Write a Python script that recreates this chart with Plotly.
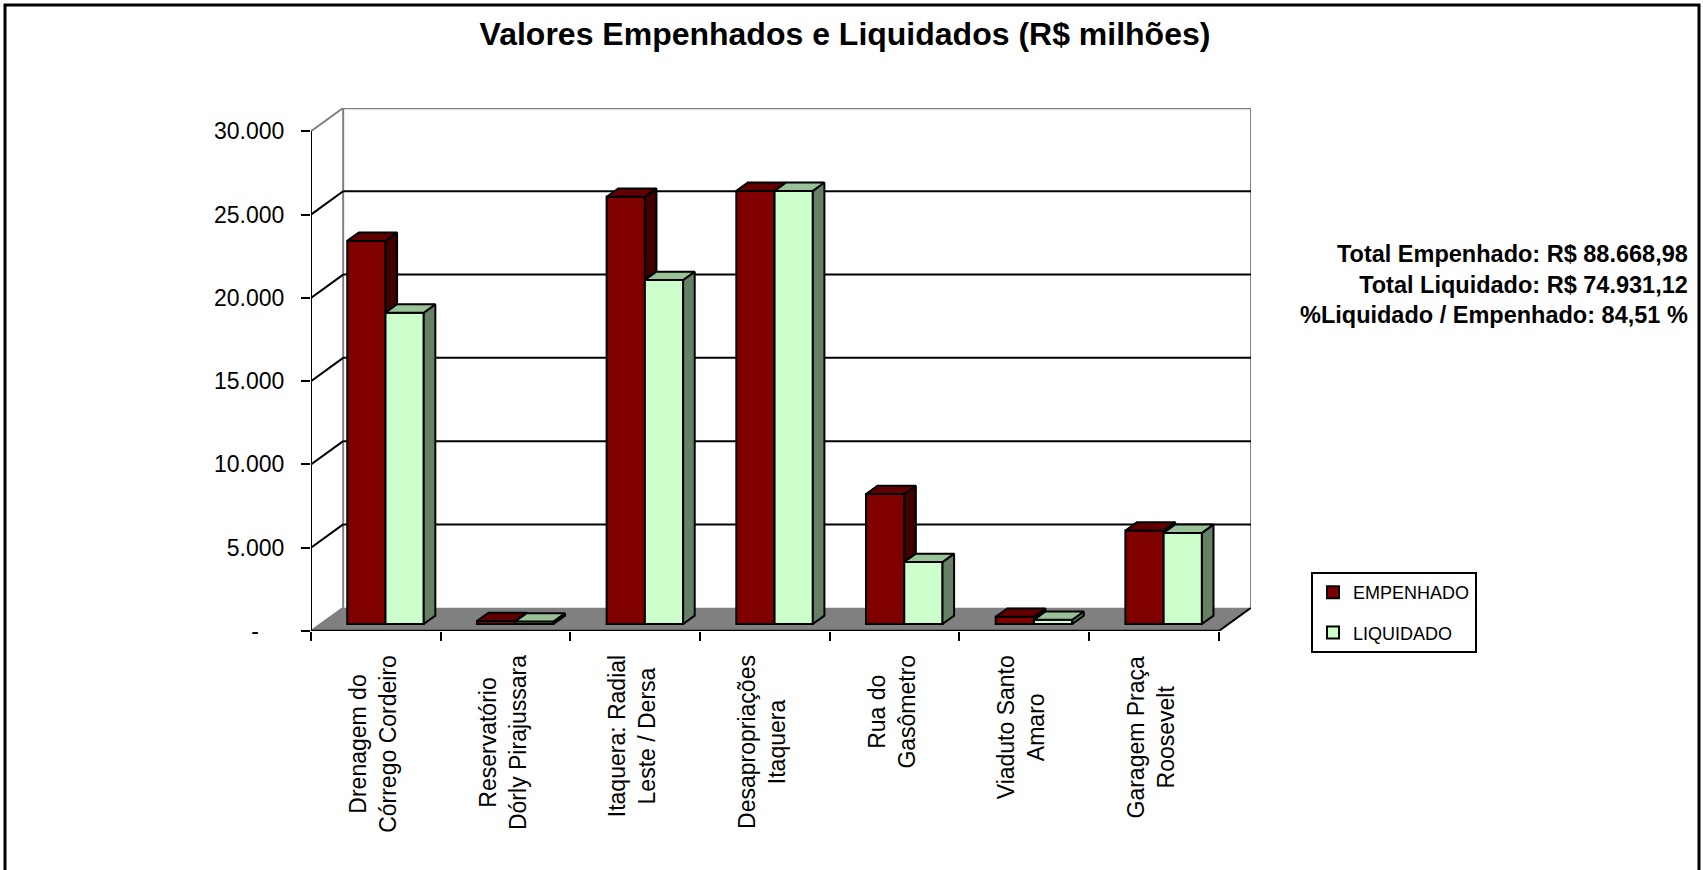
import plotly.graph_objects as go

# ---------------- data ----------------
categories = [
    "Drenagem do<br>Córrego Cordeiro",
    "Reservatório<br>Dórly Pirajussara",
    "Itaquera: Radial<br>Leste / Dersa",
    "Desapropriações<br>Itaquera",
    "Rua do<br>Gasômetro",
    "Viaduto Santo<br>Amaro",
    "Garagem Praça<br>Roosevelt",
]
empenhado = [23000, 180, 25650, 26000, 7800, 430, 5610]
liquidado = [18690, 150, 20650, 26000, 3720, 250, 5470]
series_names = ["EMPENHADO", "LIQUIDADO"]
y_tick_values = [0, 5000, 10000, 15000, 20000, 25000, 30000]
y_tick_labels = ["-\u00a0\u00a0\u00a0\u00a0", "5.000", "10.000", "15.000", "20.000", "25.000", "30.000"]
title_text = "Valores Empenhados e Liquidados (R$ milhões)"
total_lines = [
    "Total Empenhado: R$ 88.668,98",
    "Total Liquidado: R$ 74.931,12",
    "%Liquidado / Empenhado: 84,51 %",
]

# ---------------- geometry / style ----------------
W, H = 1703, 870
FONT = "Liberation Sans, Arial, sans-serif"
n = len(categories)
YMAX = 30000
DX = 0.248      # depth offset (category units)
DY = 1398       # depth offset (value units)
F0, F1 = 0.30, 0.66   # bar front/back depth fractions
BW = 0.295      # bar width (category units)

ML, MT, MB = 311, 108, 239
plot_w = 940
MR = W - ML - plot_w
plot_h = H - MT - MB


def px_x(px):
    return (px - ML) / plot_w


def px_y(py):
    return (H - MB - py) / plot_h


E_FRONT, E_TOP, E_SIDE = "#800000", "#600000", "#400000"
L_FRONT, L_TOP, L_SIDE = "#CCFFCC", "#99C299", "#668066"
GRAY = "#808080"

fig = go.Figure()

# ---------------- walls, floor, grid (shapes below traces) ----------------
shapes = []
shapes.append(dict(type="path", xref="x", yref="y", layer="below",
                   path=f"M 0,0 L {n},0 L {n+DX},{DY} L {DX},{DY} Z",
                   fillcolor=GRAY, line=dict(width=0)))
shapes.append(dict(type="line", xref="x", yref="y", layer="below", x0=0, y0=0, x1=DX, y1=DY,
                   line=dict(color=GRAY, width=2)))
shapes.append(dict(type="line", xref="x", yref="y", layer="below", x0=n, y0=0, x1=n + DX, y1=DY,
                   line=dict(color="black", width=2)))
shapes.append(dict(type="line", xref="x", yref="y", layer="below", x0=DX, y0=DY, x1=DX, y1=YMAX + DY,
                   line=dict(color=GRAY, width=2)))
shapes.append(dict(type="line", xref="x", yref="y", layer="below", x0=DX, y0=YMAX + DY, x1=n + DX, y1=YMAX + DY,
                   line=dict(color=GRAY, width=2.5)))
shapes.append(dict(type="line", xref="x", yref="y", layer="below", x0=n + DX, y0=DY, x1=n + DX, y1=YMAX + DY,
                   line=dict(color=GRAY, width=2)))
shapes.append(dict(type="line", xref="x", yref="y", layer="below", x0=0, y0=YMAX, x1=DX, y1=YMAX + DY,
                   line=dict(color=GRAY, width=2)))
for v in y_tick_values[1:-1]:
    shapes.append(dict(type="line", xref="x", yref="y", layer="below", x0=DX, y0=v + DY, x1=n + DX, y1=v + DY,
                       line=dict(color="black", width=2)))
    shapes.append(dict(type="line", xref="x", yref="y", layer="below", x0=0, y0=v, x1=DX, y1=v + DY,
                       line=dict(color="black", width=2)))
shapes.append(dict(type="line", xref="x", yref="y", layer="above", x0=0, y0=0, x1=0, y1=YMAX,
                   line=dict(color="black", width=2)))
shapes.append(dict(type="line", xref="x", yref="y", layer="above", x0=0, y0=0, x1=n, y1=0,
                   line=dict(color="black", width=2.5)))
# outer border (bottom edge falls outside the canvas, as in the reference)
shapes.append(dict(type="rect", xref="paper", yref="paper", layer="above",
                   x0=px_x(5), x1=px_x(1699), y0=px_y(874), y1=px_y(5),
                   line=dict(color="black", width=3), fillcolor="rgba(0,0,0,0)"))

# ---------------- bars (front faces) ----------------
base = F0 * DY
xc = [i + 0.5 + F0 * DX for i in range(n)]
fig.add_trace(go.Bar(x=xc, y=empenhado, base=base, width=BW, offset=-BW, name=series_names[0],
                     legendgroup="e", marker=dict(color=E_FRONT, line=dict(color="black", width=2)),
                     hoverinfo="skip"))
fig.add_trace(go.Bar(x=xc, y=liquidado, base=base, width=BW, offset=0, name=series_names[1],
                     legendgroup="l", marker=dict(color=L_FRONT, line=dict(color="black", width=2)),
                     hoverinfo="skip"))

# ---------------- 3D faces ----------------
ddx = (F1 - F0) * DX
ddy = (F1 - F0) * DY


def poly_trace(xs, ys, color):
    return go.Scatter(x=xs, y=ys, mode="lines", fill="toself", fillcolor=color,
                      line=dict(color="black", width=2), hoverinfo="skip", showlegend=False)


esx, esy, etx, ety, lsx, lsy, ltx, lty = ([] for _ in range(8))
for i in range(n):
    x0 = xc[i] - BW
    x1 = xc[i]
    x2 = xc[i] + BW
    e = base + empenhado[i]
    l = base + liquidado[i]
    if empenhado[i] > liquidado[i]:
        esx += [x1, x1, x1 + ddx, x1 + ddx, x1, None]
        esy += [l, e, e + ddy, l + ddy, l, None]
    etx += [x0, x1, x1 + ddx, x0 + ddx, x0, None]
    ety += [e, e, e + ddy, e + ddy, e, None]
    lsx += [x2, x2, x2 + ddx, x2 + ddx, x2, None]
    lsy += [base, l, l + ddy, base + ddy, base, None]
    ltx += [x1, x2, x2 + ddx, x1 + ddx, x1, None]
    lty += [l, l, l + ddy, l + ddy, l, None]

fig.add_trace(poly_trace(esx, esy, E_SIDE))
fig.add_trace(poly_trace(etx, ety, E_TOP))
fig.add_trace(poly_trace(lsx, lsy, L_SIDE))
fig.add_trace(poly_trace(ltx, lty, L_TOP))

# ---------------- annotations ----------------
annotations = []
for i, c in enumerate(categories):
    annotations.append(dict(x=i + 0.5, y=0, xref="x", yref="y", text=c, showarrow=False,
                            textangle=-90, xanchor="center", yanchor="top", yshift=-22, xshift=-3,
                            align="center", font=dict(size=23, family=FONT, color="black")))
annotations.append(dict(x=px_x(1690), y=px_y(284), xref="paper", yref="paper",
                        text="<br>".join(f"<b>{t}</b>" for t in total_lines), showarrow=False,
                        xanchor="right", yanchor="middle", align="right",
                        font=dict(size=23.5, family=FONT, color="black")))

fig.update_layout(
    width=W, height=H, autosize=False,
    margin=dict(l=ML, r=MR, t=MT, b=MB, pad=0),
    paper_bgcolor="white", plot_bgcolor="rgba(0,0,0,0)",
    barmode="overlay",
    title=dict(text=f"<b>{title_text}</b>", x=845 / W, xref="container", xanchor="center",
               y=1 - 34 / H, yref="container", yanchor="middle",
               font=dict(size=32, family=FONT, color="black")),
    xaxis=dict(range=[0, n + DX], tickvals=list(range(n + 1)), ticks="outside", ticklen=9,
               tickwidth=2, tickcolor="black", showticklabels=False, showgrid=False,
               zeroline=False, showline=False, fixedrange=True),
    yaxis=dict(range=[0, YMAX + DY], tickvals=y_tick_values, ticktext=y_tick_labels,
               ticks="outside", ticklen=9, tickwidth=2, tickcolor="black", ticklabelstandoff=12,
               tickfont=dict(size=23, family=FONT, color="black"), showgrid=False,
               zeroline=False, showline=False, fixedrange=True),
    legend=dict(x=1311 / W, y=1 - 572 / H, xref="container", yref="container",
                xanchor="left", yanchor="top", bordercolor="black", borderwidth=2,
                bgcolor="white", tracegroupgap=14, itemwidth=30,
                font=dict(size=18, family=FONT, color="black")),
    shapes=shapes,
    annotations=annotations,
    showlegend=True,
)

fig.write_html("out.html", config={"displayModeBar": False},
               post_script="document.body.style.margin='0px';")
